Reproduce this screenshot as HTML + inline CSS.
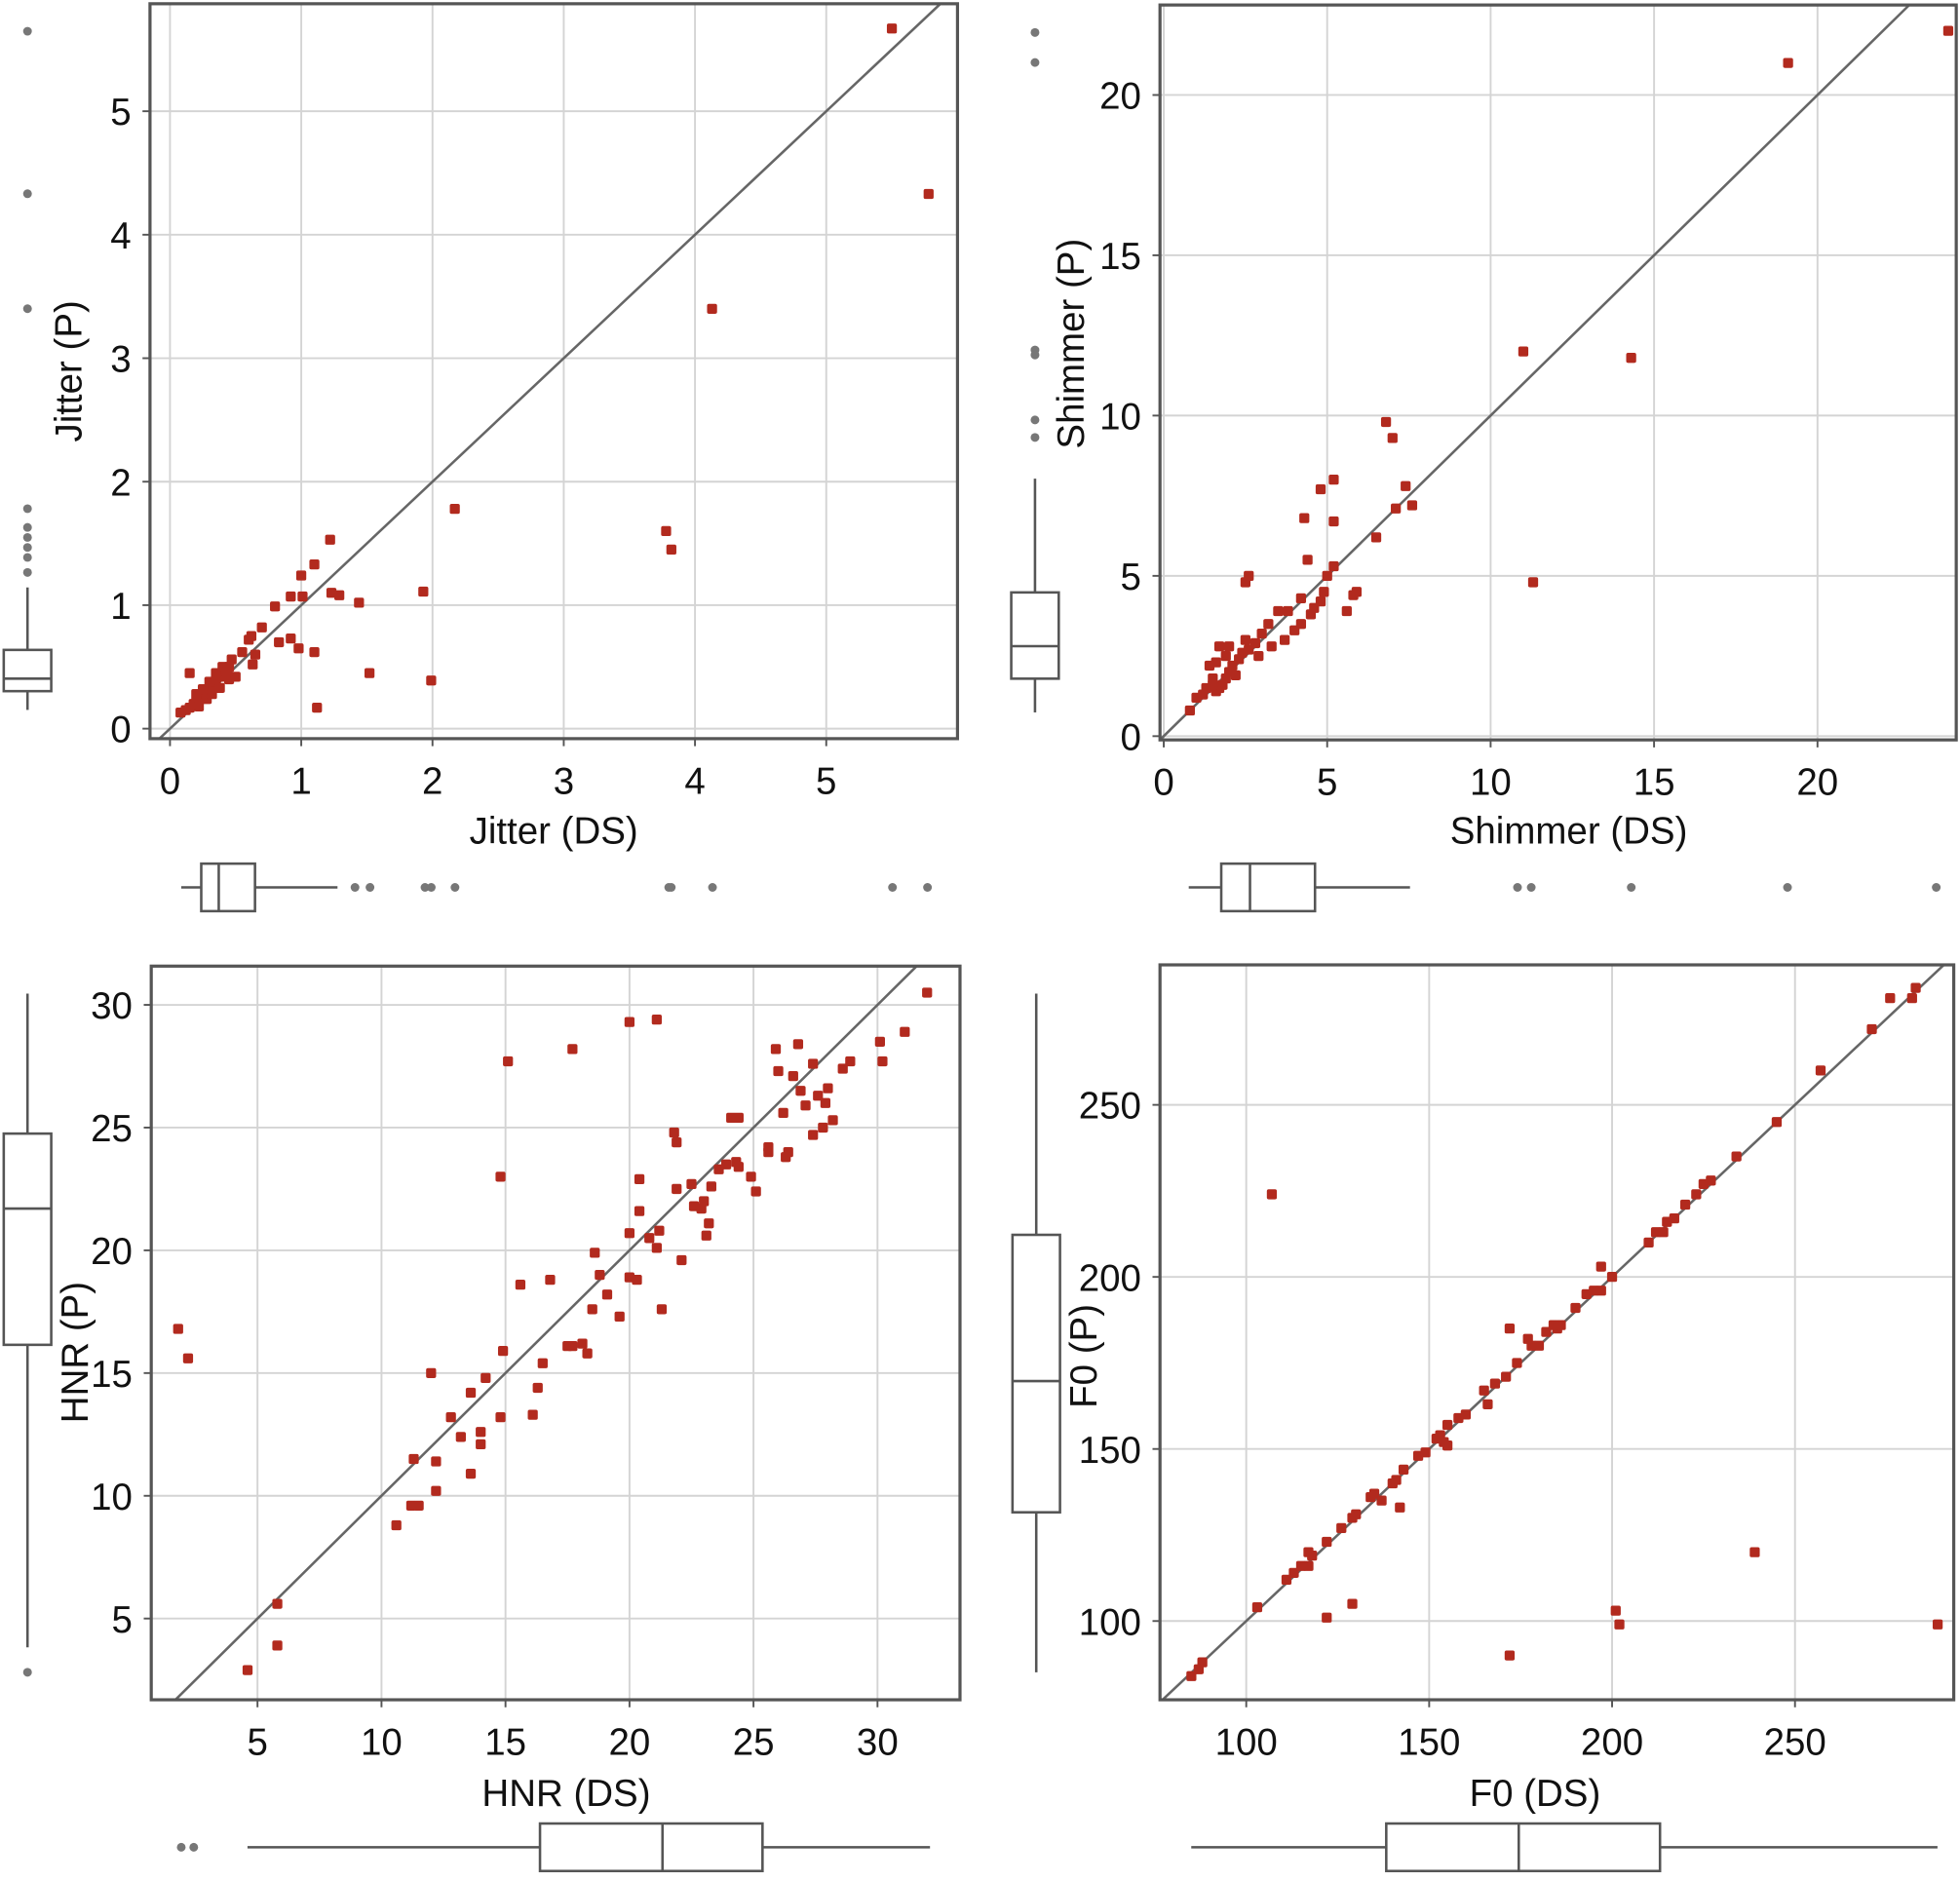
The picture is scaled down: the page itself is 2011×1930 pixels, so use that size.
<!DOCTYPE html>
<html><head><meta charset="utf-8"><style>
html,body{margin:0;padding:0;background:#fff;}
svg{display:block;font-family:"Liberation Sans",sans-serif;}
</style></head><body>
<svg id="fig" width="2011" height="1930" viewBox="0 0 1568 1505" preserveAspectRatio="none" xmlns="http://www.w3.org/2000/svg"></svg>
<script>
// ---- data (DS, P pairs) ----
const jitterDS=[5.5,5.78,4.13,2.17,3.78,3.82,1.22,1.1,1.0,0.92,1.01,1.23,1.29,1.44,1.93,0.8,0.7,0.62,0.6,0.83,0.92,0.98,1.1,1.52,1.99,1.12,0.15,0.63,0.65,0.55,0.08,0.12,0.15,0.18,0.2,0.22,0.25,0.28,0.3,0.33,0.35,0.38,0.4,0.42,0.45,0.2,0.25,0.3,0.35,0.4,0.22,0.28,0.32,0.38,0.45,0.5,0.47,0.43];
const jitterP=[5.67,4.33,3.4,1.78,1.6,1.45,1.53,1.33,1.24,1.07,1.07,1.1,1.08,1.02,1.11,0.99,0.82,0.75,0.72,0.7,0.73,0.65,0.62,0.45,0.39,0.17,0.45,0.52,0.6,0.62,0.13,0.15,0.17,0.2,0.22,0.25,0.27,0.3,0.32,0.35,0.38,0.42,0.45,0.48,0.5,0.28,0.32,0.38,0.45,0.5,0.18,0.24,0.28,0.33,0.4,0.42,0.56,0.46];
const shimmerDS=[24,19.1,11,14.3,11.3,6.8,7,5.2,4.8,7.4,7.6,7.1,5.2,4.3,6.5,4.4,5.2,5.9,5.8,5.6,2.6,2.5,3.5,3.8,4.2,4.6,4.9,4.5,4.2,4.0,3.7,3.3,3.0,2.8,2.5,2.4,2.3,2.1,1.9,1.7,1.6,1.4,1.5,1.3,1.2,1.0,0.8,1.7,1.9,2.0,1.8,1.6,2.2,3.2,2.9,1.5,2.6,2.0,4.8,5.0];
const shimmerP=[22,21,12,11.8,4.8,9.8,9.3,8,7.7,7.8,7.2,7.1,6.7,6.8,6.2,5.5,5.3,4.5,4.4,3.9,5,4.8,3.9,3.9,4.3,4.0,4.5,3.8,3.5,3.3,3.0,2.8,3.2,2.9,3.0,2.6,2.4,2.2,2.5,2.8,2.3,2.2,1.8,1.5,1.3,1.2,0.8,1.5,1.8,2.0,1.6,1.4,1.9,3.5,2.5,1.6,2.7,2.8,4.2,5.0];
const hnrDS=[1.8,2.2,4.6,5.8,5.8,10.6,11.2,11.5,11.3,12.2,12.2,12.0,12.8,13.2,13.6,13.6,14.0,14.0,14.2,14.8,14.8,14.9,15.1,15.6,16.1,16.3,16.5,16.8,17.5,17.7,17.7,18.1,18.3,18.5,18.6,18.8,19.1,19.6,20.0,20.0,20.0,20.3,20.4,20.4,20.8,21.1,21.3,21.2,21.1,21.8,21.9,21.9,22.1,22.5,22.6,22.9,23.1,23.2,23.0,23.3,23.6,23.9,24.1,24.3,24.4,24.4,24.9,25.1,25.6,25.9,26.0,26.2,26.4,26.6,26.8,26.9,27.1,27.4,27.4,27.6,27.8,28.0,28.2,28.6,28.9,30.1,30.2,31.1,32.0,25.6,26.3,27.9];
const hnrP=[16.8,15.6,2.9,3.9,5.6,8.8,9.6,9.6,11.5,10.2,11.4,15,13.2,12.4,10.9,14.2,12.6,12.1,14.8,13.2,23,15.9,27.7,18.6,13.3,14.4,15.4,18.8,16.1,28.2,16.1,16.2,15.8,17.6,19.9,19.0,18.2,17.3,18.9,20.7,29.3,18.8,22.9,21.6,20.5,29.4,17.6,20.8,20.1,24.8,24.4,22.5,19.6,22.7,21.8,21.7,20.6,21.1,22.0,22.6,23.3,23.5,25.4,23.6,25.4,23.4,23.0,22.4,24.2,28.2,27.3,25.6,24.0,27.1,28.4,26.5,25.9,27.6,24.7,26.3,25.0,26.6,25.3,27.4,27.7,28.5,27.7,28.9,30.5,24.0,23.8,26.0];
const f0DS=[85,87,88,103,111,113,115,117,118,122,126,129,130,134,135,137,140,141,143,147,149,152,153,154,155,158,160,165,168,171,174,178,180,182,184,185,186,190,193,195,197,200,210,212,214,215,217,220,223,225,227,234,245,257,271,276,282,283,107,172,197,122,129,142,155,166,172,201,202,239,289,117,177];
const f0P=[84,86,88,104,112,114,116,116,119,123,127,130,131,136,137,135,140,141,144,148,149,153,154,152,157,159,160,167,169,171,175,180,180,184,186,185,186,191,195,196,196,200,210,213,213,216,217,221,224,227,228,235,245,260,272,281,281,284,224,185,203,101,105,133,151,163,90,103,99,120,99,120,182];
// tick labels
const ticksJx=[0,1,2,3,4,5], ticksJy=[0,1,2,3,4,5];
const ticksSx=[0,5,10,15,20], ticksSy=[0,5,10,15,20];
const ticksHx=[5,10,15,20,25,30], ticksHy=[5,10,15,20,25,30];
const ticksFx=[100,150,200,250], ticksFy=[100,150,200,250];

const NS="http://www.w3.org/2000/svg";
const svg=document.getElementById('fig');
function mk(tag,attrs,parent,text){const e=document.createElementNS(NS,tag);for(const k in attrs)e.setAttribute(k,attrs[k]);if(text!==undefined)e.textContent=text;(parent||svg).appendChild(e);return e;}

function panel(cfg){
  const g=mk('g',{});
  
  
  const [L,T,R,B]=cfg.frame;
  const sx=v=>cfg.x0p+(v-cfg.x0)*(cfg.x1p-cfg.x0p)/(cfg.x1-cfg.x0);
  const sy=v=>cfg.y0p+(v-cfg.y0)*(cfg.y1p-cfg.y0p)/(cfg.y1-cfg.y0);
  const inv=p=>cfg.x0+(p-cfg.x0p)*(cfg.x1-cfg.x0)/(cfg.x1p-cfg.x0p);
  cfg.xt.forEach(v=>{const l=mk('line',{x1:sx(v),x2:sx(v),y1:T,y2:B,stroke:'#d4d4d4','stroke-width':1.5},g);
    mk('line',{x1:sx(v),x2:sx(v),y1:B,y2:B+6,stroke:'#555','stroke-width':1.5},g);
    const t=mk('text',{x:sx(v),y:B+44,'font-size':30,'text-anchor':'middle',fill:'#111'},g,String(v));});
  cfg.yt.forEach(v=>{const l=mk('line',{x1:L,x2:R,y1:sy(v),y2:sy(v),stroke:'#d4d4d4','stroke-width':1.5},g);
    mk('line',{x1:L-6,x2:L,y1:sy(v),y2:sy(v),stroke:'#555','stroke-width':1.5},g);
    const t=mk('text',{x:L-15,y:sy(v)+11,'font-size':30,'text-anchor':'end',fill:'#111'},g,String(v));});
  const a=Math.max(inv(L),cfg.y0+(B-cfg.y0p)*(cfg.y1-cfg.y0)/(cfg.y1p-cfg.y0p));
  const b=Math.min(inv(R),cfg.y0+(T-cfg.y0p)*(cfg.y1-cfg.y0)/(cfg.y1p-cfg.y0p));
  const dl=mk('line',{x1:sx(a),y1:sy(a),x2:sx(b),y2:sy(b),stroke:'#666','stroke-width':2},g);
  
  cfg.xs.forEach((xv,i)=>{const r=mk('rect',{x:sx(xv)-4,y:sy(cfg.ys[i])-4,width:8,height:8,rx:1.5,fill:'#b22a1e'},g);
    });
  const f=mk('rect',{x:L,y:T,width:R-L,height:B-T,fill:'none',stroke:'#555','stroke-width':2.5},g);
  
  const xt=mk('text',{x:cfg.xl[0],y:cfg.xl[1],'font-size':30,'text-anchor':'middle',fill:'#111'},g,cfg.xlabel);
  
  const yt=mk('text',{x:0,y:0,'font-size':30,'text-anchor':'middle',fill:'#111',transform:`translate(${cfg.yl[0]},${cfg.yl[1]}) rotate(-90)`},g,cfg.ylabel);
  
}
function hbox(name,y,w0,q1,med,q3,w1,outs){
  const g=mk('g',{});
  const st={stroke:'#555','stroke-width':2,fill:'none'};
  mk('line',Object.assign({x1:w0,x2:q1,y1:y,y2:y},st),g);mk('line',Object.assign({x1:q3,x2:w1,y1:y,y2:y},st),g);
  mk('rect',Object.assign({x:q1,y:y-19,width:q3-q1,height:38},st),g);
  mk('line',Object.assign({x1:med,x2:med,y1:y-19,y2:y+19},st),g);
  outs.forEach(o=>mk('circle',{cx:o,cy:y,r:3.5,fill:'#777'},g));
}
function vbox(name,x,w0,q1,med,q3,w1,outs){
  const g=mk('g',{});
  const st={stroke:'#555','stroke-width':2,fill:'none'};
  mk('line',Object.assign({y1:w0,y2:q1,x1:x,x2:x},st),g);mk('line',Object.assign({y1:q3,y2:w1,x1:x,x2:x},st),g);
  mk('rect',Object.assign({y:q1,x:x-19,height:q3-q1,width:38},st),g);
  mk('line',Object.assign({y1:med,y2:med,x1:x-19,x2:x+19},st),g);
  outs.forEach(o=>mk('circle',{cx:x,cy:o,r:3.5,fill:'#777'},g));
}
panel({name:'jitter-panel',frame:[120,3,766,591],x0:0,x1:5,x0p:136,x1p:661,y0:0,y1:5,y0p:583,y1p:89,xt:ticksJx,yt:ticksJy,xs:jitterDS,ys:jitterP,xlabel:'Jitter (DS)',ylabel:'Jitter (P)',xl:[443,675],yl:[65,297]});
panel({name:'shimmer-panel',frame:[928,4,1565,592],x0:0,x1:20,x0p:931,x1p:1454,y0:0,y1:20,y0p:589,y1p:76,xt:ticksSx,yt:ticksSy,xs:shimmerDS,ys:shimmerP,xlabel:'Shimmer (DS)',ylabel:'Shimmer (P)',xl:[1255,675],yl:[867,275]});
panel({name:'hnr-panel',frame:[121,773,768,1360],x0:5,x1:30,x0p:206,x1p:702,y0:5,y1:30,y0p:1295,y1p:804,xt:ticksHx,yt:ticksHy,xs:hnrDS,ys:hnrP,xlabel:'HNR (DS)',ylabel:'HNR (P)',xl:[453,1445],yl:[70,1082]});
panel({name:'f0-panel',frame:[928,772,1563,1360],x0:100,x1:250,x0p:997,x1p:1436,y0:100,y1:250,y0p:1297,y1p:884,xt:ticksFx,yt:ticksFy,xs:f0DS,ys:f0P,xlabel:'F0 (DS)',ylabel:'F0 (P)',xl:[1228,1445],yl:[877,1085]});
vbox('jitter-p-boxplot',22,470,520,543,553,568,[25,155,247,407,422,430,438,446,458]);
hbox('jitter-ds-boxplot',710,145,161,175,204,270,[284,296,340,345,364,535,537,570,714,742]);
vbox('shimmer-p-boxplot',828,383,474,517,543,570,[26,50,280,284,336,350]);
hbox('shimmer-ds-boxplot',710,951,977,1000,1052,1128,[1214,1225,1305,1430,1549]);
vbox('hnr-p-boxplot',22,795,907,967,1076,1318,[1338]);
hbox('hnr-ds-boxplot',1478,198,432,530,610,744,[145,155]);
vbox('f0-p-boxplot',829,795,988,1105,1210,1338,[]);
hbox('f0-ds-boxplot',1478,953,1109,1215,1328,1550,[]);
</script>
</body></html>
